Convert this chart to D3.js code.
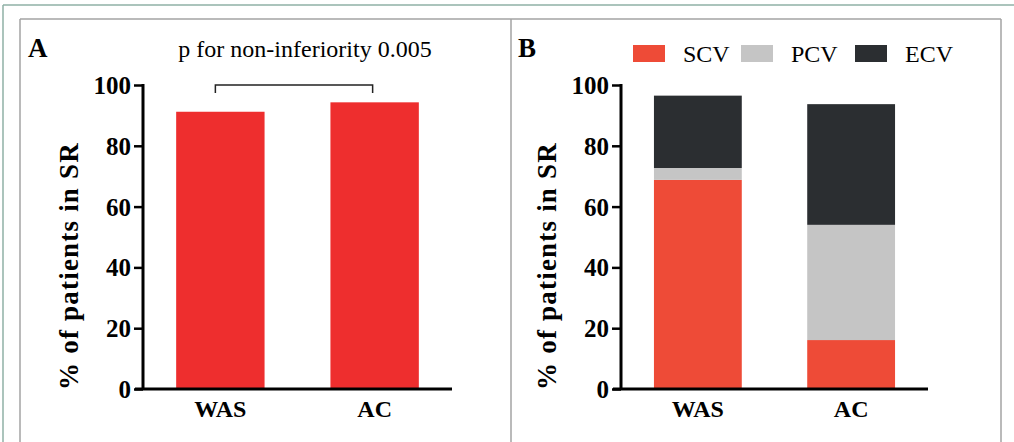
<!DOCTYPE html>
<html>
<head>
<meta charset="utf-8">
<script src="https://cdn.jsdelivr.net/npm/d3@7"></script>
<style>
  html, body { margin: 0; padding: 0; background: #fff; }
  svg { display: block; }
  text { font-family: "Liberation Serif", "Times New Roman", serif; fill: #000; }
</style>
</head>
<body>
<svg id="chart" width="1014" height="442"></svg>
<script>
// Groups on the x axis
const groups = ["WAS", "AC"];
// Panel A: overall % of patients in sinus rhythm
const srTotal = [91.2, 94.3];
// Panel B: breakdown by cardioversion type
const stackKeys = ["SCV", "PCV", "ECV"];
const scv = [68.8, 16.1];
const pcv = [3.9, 37.9];
const ecv = [23.8, 39.7];
const yTicks = [0, 20, 40, 60, 80, 100];
const pLabel = "p for non-inferiority 0.005";
const yLabel = "% of patients in SR";

const SERIF = "Liberation Serif, Times New Roman, serif";
const svg = d3.select("#chart").attr("font-family", SERIF);

// Frames around the figure
svg.append("line").attr("x1", 3).attr("x2", 1014).attr("y1", 5).attr("y2", 5)
  .attr("stroke", "#8fb0a6").attr("stroke-width", 1.5);
svg.append("line").attr("x1", 3).attr("x2", 3).attr("y1", 5).attr("y2", 442)
  .attr("stroke", "#8fb0a6").attr("stroke-width", 1.5);
const boxStroke = "#a3a3a3";
svg.append("line").attr("x1", 20).attr("x2", 1001).attr("y1", 19).attr("y2", 19)
  .attr("stroke", boxStroke).attr("stroke-width", 1.5);
[20, 511, 1001].forEach(x => {
  svg.append("line").attr("x1", x).attr("x2", x).attr("y1", 19).attr("y2", 442)
    .attr("stroke", boxStroke).attr("stroke-width", 1.5);
});

const y = d3.scaleLinear().domain([0, 100]).range([389, 85]);

function drawAxes(g, x, axisX, xEnd) {
  // y axis
  const ya = g.append("g").attr("transform", `translate(${axisX},0)`)
    .call(d3.axisLeft(y).tickValues(yTicks).tickSize(9).tickPadding(3).tickFormat(d3.format("d")));
  ya.attr("font-family", SERIF);
  ya.select(".domain").remove();
  ya.selectAll(".tick line").attr("stroke", "#000").attr("stroke-width", 2.5);
  ya.selectAll(".tick text")
    .attr("font-family", SERIF)
    .attr("font-weight", "bold").attr("font-size", 25).attr("dy", "0.34em")
    .attr("fill", "#000");
  ya.append("line").attr("x1", 0).attr("x2", 0).attr("y1", y(0)).attr("y2", y(100) - 1)
    .attr("stroke", "#000").attr("stroke-width", 3);
  // x axis
  const xa = g.append("g").attr("transform", `translate(0,${y(0)})`)
    .call(d3.axisBottom(x).tickSize(0).tickPadding(11));
  xa.attr("font-family", SERIF);
  xa.select(".domain").remove();
  xa.append("line").attr("x1", axisX - 8).attr("x2", xEnd).attr("y1", 0).attr("y2", 0)
    .attr("stroke", "#000").attr("stroke-width", 3);
  xa.selectAll(".tick text")
    .attr("font-family", SERIF)
    .attr("font-weight", "bold").attr("font-size", 24).attr("dy", "0.71em")
    .attr("fill", "#000");
}

function yTitle(g, cx, cy) {
  g.append("text")
    .attr("transform", `translate(${cx},${cy}) rotate(-90)`)
    .attr("text-anchor", "middle")
    .attr("font-family", SERIF)
    .attr("font-weight", "bold").attr("font-size", 27)
    .attr("letter-spacing", 1.2)
    .text(yLabel);
}

// ---- Panel A ----
const gA = svg.append("g");
const xA = d3.scaleBand().domain(groups).range([143, 452]).paddingInner(0.427).paddingOuter(0.215);
gA.selectAll("rect.bar").data(groups).join("rect")
  .attr("class", "bar")
  .attr("x", d => xA(d)).attr("width", xA.bandwidth())
  .attr("y", (d, i) => y(srTotal[i])).attr("height", (d, i) => y(0) - y(srTotal[i]))
  .attr("fill", "#ee2e2e");
drawAxes(gA, xA, 143, 452);
yTitle(gA, 78, 266);

// Significance bracket
const bx1 = xA("WAS") + xA.bandwidth() / 2 - 5;
const bx2 = xA("AC") + xA.bandwidth() / 2 - 2;
gA.append("path")
  .attr("d", `M${bx1},${y(97.4)}V${y(100)}H${bx2}V${y(97.4)}`)
  .attr("fill", "none").attr("stroke", "#222").attr("stroke-width", 1.5);
gA.append("text").attr("x", 305).attr("y", 57).attr("text-anchor", "middle")
  .attr("font-family", SERIF).attr("font-size", 24)
  .text(pLabel);
gA.append("text").attr("x", 28).attr("y", 57).attr("font-family", SERIF)
  .attr("font-weight", "bold").attr("font-size", 27).text("A");

// ---- Panel B ----
const gB = svg.append("g");
const xB = d3.scaleBand().domain(groups).range([621, 928]).paddingInner(0.427).paddingOuter(0.215);
const colors = d3.scaleOrdinal().domain(stackKeys).range(["#ee4b37", "#c5c5c5", "#2b2e31"]);
const rows = groups.map((gname, i) => ({ group: gname, SCV: scv[i], PCV: pcv[i], ECV: ecv[i] }));
const stacked = d3.stack().keys(stackKeys)(rows);
gB.selectAll("g.layer").data(stacked).join("g")
  .attr("class", "layer").attr("fill", d => colors(d.key))
  .selectAll("rect").data(d => d).join("rect")
  .attr("x", d => xB(d.data.group)).attr("width", xB.bandwidth())
  .attr("y", d => y(d[1])).attr("height", d => y(d[0]) - y(d[1]));
drawAxes(gB, xB, 621, 928);
yTitle(gB, 556, 266);
gB.append("text").attr("x", 518).attr("y", 57).attr("font-family", SERIF)
  .attr("font-weight", "bold").attr("font-size", 27).text("B");

// Legend
const legendX = [633, 741, 855];
const legend = gB.selectAll("g.legend").data(stackKeys).join("g")
  .attr("class", "legend")
  .attr("transform", (d, i) => `translate(${legendX[i]},45)`);
legend.append("rect").attr("width", 32).attr("height", 17).attr("fill", d => colors(d));
legend.append("text").attr("x", 50).attr("y", 17).attr("font-family", SERIF)
  .attr("font-size", 24).text(d => d);
</script>
</body>
</html>
